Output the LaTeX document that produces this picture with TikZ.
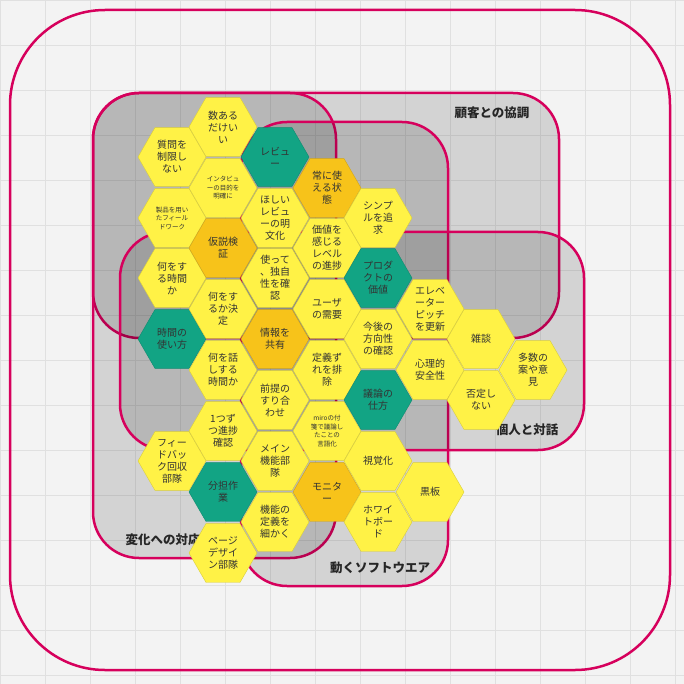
\documentclass[tikz,border=0pt]{standalone}
\usepackage{fontspec}
\setmainfont{Noto Sans CJK JP}
\usetikzlibrary{shapes.geometric}
\definecolor{hy}{HTML}{FFF246}
\definecolor{ho}{HTML}{F7C31A}
\definecolor{ht}{HTML}{12A484}
\definecolor{mg}{HTML}{D6005C}
\definecolor{bg}{HTML}{F3F3F3}
\definecolor{txt}{HTML}{333333}
\tikzset{
 hex/.style={regular polygon,regular polygon sides=6,minimum size=68pt,inner sep=0pt,draw=#1!85!black,line width=0.4pt},
 htext/.style={align=center,font=\fontsize{10}{12}\selectfont,text=txt,inner sep=0pt},
 hsmall/.style={align=center,font=\fontsize{6.5}{8.5}\selectfont,text=txt,inner sep=0pt},
 area/.style={draw=mg,line width=2.5pt,fill=black,fill opacity=0.13,rounded corners=46pt},
 lbl/.style={font=\bfseries\fontsize{12.5}{14}\selectfont,text=black!85,inner sep=1pt}
}
\newcommand\hx[6]{\node[hex=#4,fill=#4] (#1) at (#2,#3) {};\node[#5] (#1t) at (#1) {#6};}
\begin{document}
\begin{tikzpicture}[x=1pt,y=-1pt]
\useasboundingbox (0,0) rectangle (684,684);
\fill[bg] (0,0) rectangle (684,684);
\draw[white!88!black,line width=0.5pt] (0,0) grid[step=45pt] (684,684);
\draw[mg,line width=2.5pt,rounded corners=95pt] (10,10) rectangle (670,670);
\draw[area] (93,93) rectangle (559,338);
\draw[area] (93,93) rectangle (336,558);
\draw[area] (241,122) rectangle (448,586);
\draw[area] (120,232) rectangle (584,450);
\node[lbl] (l1) at (492,113) {顧客との協調};
\node[lbl] (l2) at (163,540) {変化への対応};
\node[lbl] (l3) at (380,568) {動くソフトウエア};
\node[lbl] (l4) at (527,430) {個人と対話};
% col0
\hx{a1}{172}{157}{hy}{htext}{質問を\\制限し\\ない}
\hx{a2}{172}{218}{hy}{hsmall}{製品を用い\\たフィール\\ドワーク}
\hx{a3}{172}{278}{hy}{htext}{何をす\\る時間\\か}
\hx{a4}{172}{339}{ht}{htext}{時間の\\使い方}
\hx{a5}{172}{461}{hy}{htext}{フィー\\ドバッ\\ク回収\\部隊}
% col1
\hx{b1}{223}{127}{hy}{htext}{数ある\\だけい\\い}
\hx{b2}{223}{188}{hy}{hsmall}{インタビュ\\ーの目的を\\明確に}
\hx{b3}{223}{248}{ho}{htext}{仮説検\\証}
\hx{b4}{223}{309}{hy}{htext}{何をす\\るか決\\定}
\hx{b5}{223}{370}{hy}{htext}{何を話\\しする\\時間か}
\hx{b6}{223}{431}{hy}{htext}{1つず\\つ進捗\\確認}
\hx{b7}{223}{492}{ht}{htext}{分担作\\業}
\hx{b8}{223}{553}{hy}{htext}{ページ\\デザイ\\ン部隊}
% col2
\hx{c1}{275}{157}{ht}{htext}{レビュ\\ー}
\hx{c2}{275}{218}{hy}{htext}{ほしい\\レビュ\\ーの明\\文化}
\hx{c3}{275}{278}{hy}{htext}{使って\\、独自\\性を確\\認}
\hx{c4}{275}{339}{ho}{htext}{情報を\\共有}
\hx{c5}{275}{400}{hy}{htext}{前提の\\すり合\\わせ}
\hx{c6}{275}{461}{hy}{htext}{メイン\\機能部\\隊}
\hx{c7}{275}{522}{hy}{htext}{機能の\\定義を\\細かく}
% col3
\hx{d1}{327}{188}{ho}{htext}{常に使\\える状\\態}
\hx{d2}{327}{248}{hy}{htext}{価値を\\感じる\\レベル\\の進捗}
\hx{d3}{327}{309}{hy}{htext}{ユーザ\\の需要}
\hx{d4}{327}{370}{hy}{htext}{定義ず\\れを排\\除}
\hx{d5}{327}{431}{hy}{hsmall}{miroの付\\箋で議論し\\たことの\\言語化}
\hx{d6}{327}{492}{ho}{htext}{モニタ\\ー}
% col4
\hx{e1}{378}{218}{hy}{htext}{シンプ\\ルを追\\求}
\hx{e2}{378}{278}{ht}{htext}{プロダ\\クトの\\価値}
\hx{e3}{378}{339}{hy}{htext}{今後の\\方向性\\の確認}
\hx{e4}{378}{400}{ht}{htext}{議論の\\仕方}
\hx{e5}{378}{461}{hy}{htext}{視覚化}
\hx{e6}{378}{522}{hy}{htext}{ホワイ\\トボー\\ド}
% col5
\hx{f1}{430}{309}{hy}{htext}{エレベ\\ーター\\ピッチ\\を更新}
\hx{f2}{430}{370}{hy}{htext}{心理的\\安全性}
\hx{f3}{430}{492}{hy}{htext}{黒板}
% col6
\hx{g1}{481}{339}{hy}{htext}{雑談}
\hx{g2}{481}{400}{hy}{htext}{否定し\\ない}
% col7
\hx{h1}{533}{370}{hy}{htext}{多数の\\案や意\\見}
\end{tikzpicture}
\end{document}
